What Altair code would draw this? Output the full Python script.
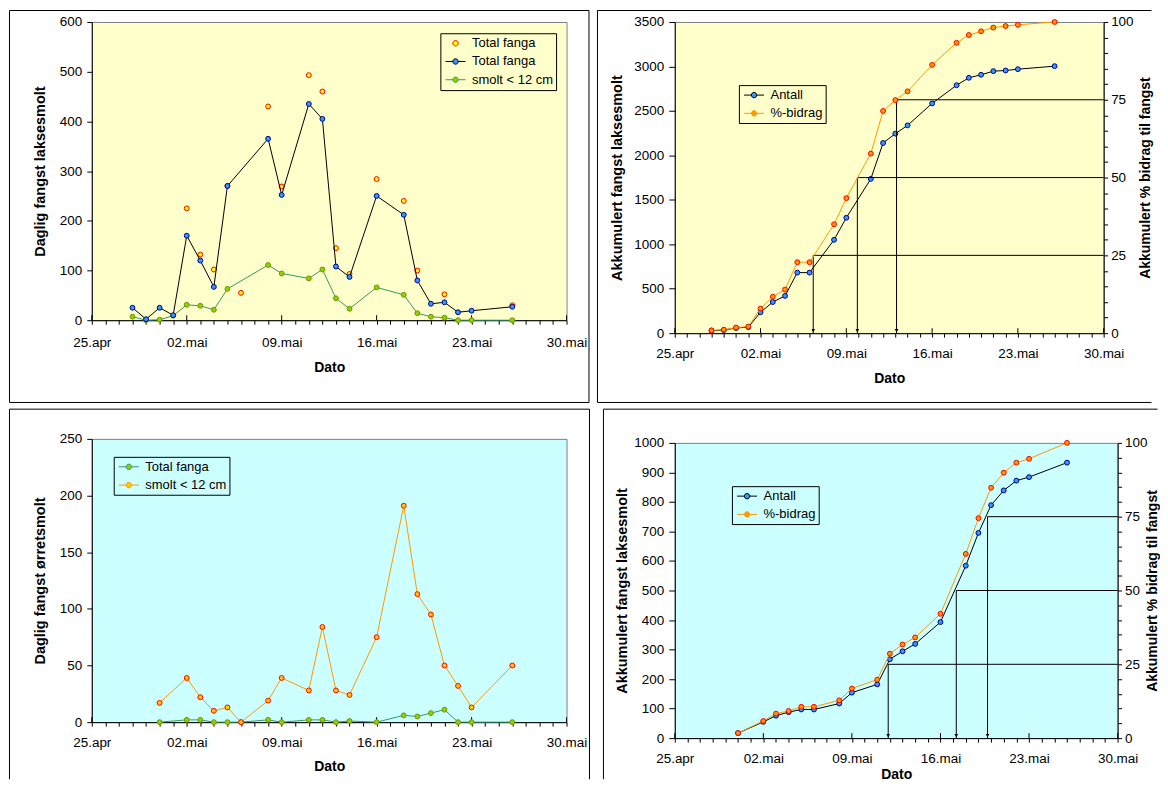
import datetime as dt
import json

import altair as alt
import pandas as pd

FONT = "Liberation Sans"
TICK_FS = 13.5
LEGEND_FS = 13
XTITLE_FS = 14
YTITLE_FS = 14.5
RTITLE_FS = 14
YELLOW = "#FFFFCC"
CYAN = "#CCFFFF"

# ---------------- data ----------------
x_tick_labels = ["25.apr", "02.mai", "09.mai", "16.mai", "23.mai", "30.mai"]

# Panel 1: daily catch of salmon smolt
p1_dates = ["28.04", "29.04", "30.04", "01.05", "02.05", "03.05", "04.05", "05.05",
            "08.05", "09.05", "11.05", "12.05", "13.05", "14.05", "16.05", "18.05",
            "19.05", "20.05", "21.05", "22.05", "23.05", "26.05"]
p1_total = [25, 2, 25, 10, 170, 120, 67, 270, 365, 252, 435, 405, 108, 87, 250, 212,
            80, 33, 36, 16, 19, 27]
p1_smolt = [7, 0, 1, 9, 31, 29, 21, 63, 111, 94, 84, 102, 44, 23, 66, 51,
            14, 7, 5, 0, 0, 0]
p1_scatter_dates = ["02.05", "03.05", "04.05", "05.05", "06.05", "08.05", "09.05", "11.05",
                    "12.05", "13.05", "14.05", "16.05", "18.05", "19.05", "21.05", "26.05"]
p1_scatter = [225, 132, 102, 270, 55, 430, 269, 493, 460, 145, 93, 284, 240, 100, 52, 30]

# Panel 2: accumulated catch of salmon smolt
p2_dates = ["28.04", "29.04", "30.04", "01.05", "02.05", "03.05", "04.05", "05.05", "06.05",
            "08.05", "09.05", "11.05", "12.05", "13.05", "14.05", "16.05", "18.05",
            "19.05", "20.05", "21.05", "22.05", "23.05", "26.05"]
p2_antall = [28, 35, 58, 68, 235, 350, 419, 681, 681, 1050, 1298, 1735, 2139, 2244, 2337,
             2584, 2789, 2872, 2906, 2947, 2954, 2969, 3003]
p2_pct = [0.9, 1.1, 1.8, 2.1, 7.9, 11.7, 14.0, 22.8, 22.8, 35.0, 43.4, 57.7, 71.4, 74.9,
          77.7, 86.2, 93.3, 95.8, 97.0, 98.2, 98.7, 99.1, 100]
p2_levels = [25, 50, 75]
p2_cross_day = [11.3, 14.9, 18.1]   # days after 25.apr

# Panel 3: daily catch of trout smolt
p3_dates = ["30.04", "02.05", "03.05", "04.05", "05.05", "06.05", "08.05", "09.05", "11.05",
            "12.05", "13.05", "14.05", "16.05", "18.05", "19.05", "20.05", "21.05", "22.05",
            "23.05", "26.05"]
p3_total = [0, 2, 2, 0, 0, 0, 2, 0, 2, 2, 0, 1, 0, 6, 5, 8, 11, 0, 0, 0]
p3_smolt = [17, 39, 22, 10, 13, 0, 19, 39, 28, 84, 28, 24, 75, 191, 113, 95, 50, 32, 13, 50]

# Panel 4: accumulated catch
p4_dates = list(p3_dates)
p4_antall = [17, 55, 76, 88, 97, 97, 117, 154, 182, 267, 294, 319, 393, 584, 695, 789, 839,
             872, 884, 933]
p4_pct = [1.7, 5.8, 8.3, 9.2, 10.6, 10.6, 12.8, 16.8, 19.8, 28.6, 31.7, 34.1, 42.1, 62.4,
          74.5, 84.8, 89.9, 93.3, 94.6, 100]
p4_levels = [25, 50, 75]
p4_cross_day = [16.87, 22.25, 24.72]

START = dt.date(2005, 4, 25)


def dag(s):
    d, m = s.split(".")
    return (dt.date(2005, int(m), int(d)) - START).days


LABEL_EXPR = "datum.value % 7 == 0 ? " + json.dumps(x_tick_labels) + "[datum.value / 7] : ''"

# legend symbols: line with a marker, and a lone marker (unit box -1..1 = 14 px)
R = 0.386
LINE_SYM = (f"M-1.43,0H-{R}M{R},0H1.43M-{R},0A{R},{R},0,1,1,{R},0"
            f"A{R},{R},0,1,1,-{R},0Z")
DOT_SYM = f"M-{R},0A{R},{R},0,1,1,{R},0A{R},{R},0,1,1,-{R},0Z"


# ---------------- helpers ----------------
def xenc(label_pad, title_y):
    return alt.X(
        "dag:Q",
        scale=alt.Scale(domain=[0, 35], nice=False, zero=False),
        axis=alt.Axis(values=list(range(36)), labelExpr=LABEL_EXPR, labelOverlap=False,
                      labelFlush=False, tickSize=4, labelPadding=label_pad,
                      labelBaseline="middle", grid=False, title="Dato", titleY=title_y,
                      titleBaseline="middle", titleFontSize=XTITLE_FS),
    )


def yenc(field, domain, step, title, title_x, orient="left", tick=5, label_pad=5,
         label_expr=None, title_fs=YTITLE_FS):
    ax = dict(values=list(range(domain[0], domain[1] + 1, step)), orient=orient,
              tickSize=tick, labelPadding=label_pad, grid=False, labelOverlap=False,
              labelFlush=False, format="d", title=title, titleX=title_x,
              titleBaseline="middle", titleFontSize=title_fs, titleAngle=270)
    if label_expr:
        ax["labelExpr"] = label_expr
    return alt.Y(f"{field}:Q", scale=alt.Scale(domain=list(domain), nice=False, zero=False),
                 axis=alt.Axis(**ax))


def legend(x, y):
    return alt.Legend(orient="none", legendX=x, legendY=y, title=None, symbolSize=196,
                      symbolStrokeWidth=1, symbolOpacity=1, symbolOffset=5.2,
                      strokeColor="black", padding=2.5, rowPadding=3.3, labelOffset=9,
                      labelFont=FONT, labelFontSize=LEGEND_FS, labelColor="black",
                      labelLimit=0)


def legend_layer(df, xe, ye, labels, fills, strokes, shapes, leg):
    return alt.Chart(df).mark_point(opacity=0).encode(
        x=xe, y=ye,
        fill=alt.Fill("serie:N", scale=alt.Scale(domain=labels, range=fills), legend=leg),
        stroke=alt.Stroke("serie:N", scale=alt.Scale(domain=labels, range=strokes),
                          legend=leg),
        shape=alt.Shape("serie:N", scale=alt.Scale(domain=labels, range=shapes), legend=leg),
    )


def frame(x1, y1, x2, y2, sides):
    segs = {
        "l": (x1, y1, x1, y2),
        "r": (x2, y1, x2, y2),
        "t": (x1, y1, x2, y1),
        "b": (x1, y2, x2, y2),
    }
    out = []
    for s in sides:
        a, b, c, d = segs[s]
        out.append(
            alt.Chart(alt.Data(values=[{}])).mark_rule(color="black", strokeWidth=1)
            .encode(x=alt.value(a), y=alt.value(b), x2=alt.value(c), y2=alt.value(d))
        )
    return out


def cross_ticks(xe, h):
    df = pd.DataFrame({"dag": [7 * i for i in range(len(x_tick_labels))]})
    return alt.Chart(df).mark_rule(color="black", strokeWidth=1).encode(
        x=xe, y=alt.value(h - 5), y2=alt.value(h))


def series_df(dates, values, serie):
    return pd.DataFrame({"dag": [dag(d) for d in dates], "verdi": values, "serie": serie})


def line_layer(df, xe, ye, color):
    return alt.Chart(df).mark_line(color=color, strokeWidth=1).encode(x=xe, y=ye)


def pts_layer(df, xe, ye, fill, stroke):
    return alt.Chart(df).mark_point(shape="circle", filled=True, fill=fill, stroke=stroke,
                                    size=24, strokeWidth=1, opacity=1).encode(x=xe, y=ye)


# ---------------- panel 1 ----------------
w1, h1 = 476, 299
x1 = xenc(18, 47.5)
y1 = yenc("verdi", [0, 600], 100, "Daglig fangst laksesmolt", -51.5)
d1_sc = series_df(p1_scatter_dates, p1_scatter, "Total fanga ")
d1_tot = series_df(p1_dates, p1_total, "Total fanga")
d1_sm = series_df(p1_dates, p1_smolt, "smolt < 12 cm")
p1 = alt.layer(
    *frame(-82.5, -11.5, 498.5, 381.5, "ltrb"),
    cross_ticks(x1, h1),
    pts_layer(d1_sc, x1, y1, "#FFFF00", "#FF0000"),
    line_layer(d1_sm, x1, y1, "#339966"),
    line_layer(d1_tot, x1, y1, "#000000"),
    pts_layer(d1_sm, x1, y1, "#99CC00", "#669900"),
    pts_layer(d1_tot, x1, y1, "#3399FF", "#000080"),
    legend_layer(pd.concat([d1_sc, d1_tot, d1_sm]), x1, y1,
                 ["Total fanga ", "Total fanga", "smolt < 12 cm"],
                 ["#FFFF00", "#3399FF", "#99CC00"], ["#FF0000", "#000000", "#339966"],
                 [DOT_SYM, LINE_SYM, LINE_SYM], legend(349.5, 11.3)),
).properties(width=w1, height=h1, view=alt.ViewBackground(fill=YELLOW, stroke="#808080"))


# ---------------- accumulated panels ----------------
def accum_panel(dates, antall, pct, levels, cross_day, w, h, left_dom, left_step,
                left_title_x, right_title_x, xlab_pad, xtitle_y, leg_xy, bg, frame_args):
    xe = xenc(xlab_pad, xtitle_y)
    yl = yenc("verdi", left_dom, left_step, "Akkumulert fangst laksesmolt", left_title_x,
              tick=6)

    def yr(field):
        return yenc(field, [0, 100], 5, "Akkumulert % bidrag til fangst", right_title_x,
                    orient="right", tick=4, label_pad=3, title_fs=RTITLE_FS,
                    label_expr="datum.value % 25 == 0 ? datum.label : ''")

    dfa = series_df(dates, antall, "Antall")
    dfp = series_df(dates, pct, "%-bidrag")
    kryss = pd.DataFrame({"dag": cross_day, "niva": levels, "slutt": 35, "bunn": 0})

    left = alt.layer(
        line_layer(dfa, xe, yl, "#000000"),
        pts_layer(dfa, xe, yl, "#3399FF", "#000080"),
        legend_layer(dfa, xe, yl, ["Antall", "%-bidrag"], ["#3399FF", "#FF9900"],
                     ["#000000", "#FF9900"], [LINE_SYM, LINE_SYM],
                     legend(leg_xy[0], leg_xy[1])),
    )
    right = alt.layer(
        alt.Chart(kryss).mark_rule(color="black", strokeWidth=1).encode(
            x=xe, x2="slutt:Q", y=yr("niva")),
        alt.Chart(kryss).mark_rule(color="black", strokeWidth=1).encode(
            x=xe, y=yr("niva"), y2="bunn:Q"),
        alt.Chart(kryss).mark_point(shape="triangle-down", filled=True, color="black",
                                    size=14, opacity=1, yOffset=-2.5).encode(
            x=xe, y=yr("bunn")),
        line_layer(dfp, xe, yr("verdi"), "#FF9900"),
        pts_layer(dfp, xe, yr("verdi"), "#FF9900", "#FF0000"),
    )
    return alt.layer(*frame(*frame_args), cross_ticks(xe, h), left, right).resolve_scale(
        y="independent").properties(width=w, height=h,
                                    view=alt.ViewBackground(fill=bg, stroke="#808080"))


p2 = accum_panel(p2_dates, p2_antall, p2_pct, p2_levels, p2_cross_day, 430, 312,
                 [0, 3500], 500, -57, 42, 16.5, 45.5, (64.3, 63.3), YELLOW,
                 (-77.5, -11.5, 478, 381.5, "ltb"))
p4 = accum_panel(p4_dates, p4_antall, p4_pct, p4_levels, p4_cross_day, 444, 296,
                 [0, 1000], 100, -52, 35, 16, 36.2, (57.3, 43.4), CYAN,
                 (-71.5, -33.8, 484, 337.2, "lt"))

# ---------------- panel 3 ----------------
w3, h3 = 476, 284
x3 = xenc(16, 44.7)
y3 = yenc("verdi", [0, 250], 50, "Daglig fangst ørretsmolt", -51)
d3_tot = series_df(p3_dates, p3_total, "Total fanga")
d3_sm = series_df(p3_dates, p3_smolt, "smolt < 12 cm")
p3 = alt.layer(
    *frame(-82.5, -29.8, 499, 341.2, "ltr"),
    cross_ticks(x3, h3),
    line_layer(d3_tot, x3, y3, "#339966"),
    line_layer(d3_sm, x3, y3, "#FF9900"),
    pts_layer(d3_tot, x3, y3, "#99CC00", "#669900"),
    pts_layer(d3_sm, x3, y3, "#FFCC00", "#FF0000"),
    legend_layer(pd.concat([d3_tot, d3_sm]), x3, y3, ["Total fanga", "smolt < 12 cm"],
                 ["#99CC00", "#FFCC00"], ["#339966", "#FF9900"], [LINE_SYM, LINE_SYM],
                 legend(22, 18)),
).properties(width=w3, height=h3, view=alt.ViewBackground(fill=CYAN, stroke="#808080"))

# ---------------- layout ----------------
RES = dict(fill="independent", stroke="independent", shape="independent")
left_col = alt.vconcat(p1, p3, spacing=4).resolve_scale(**RES)
# right column: panels are placed by their frames (no origin alignment),
# so the two plot areas can start at different x like in the original
right_col = alt.concat(p2, p4, columns=1, spacing=4, align="none").resolve_scale(**RES)
chart = alt.hconcat(left_col, right_col, spacing=5.5, padding=0).resolve_scale(**RES)
chart = chart.configure(font=FONT).configure_axis(
    labelFont=FONT, titleFont=FONT, labelFontSize=TICK_FS, titleFontWeight="bold",
    domainColor="black", tickColor="black", labelColor="black", titleColor="black",
    domainWidth=1, tickWidth=1)

chart.save("out.html", embed_options={"renderer": "svg", "actions": False})
